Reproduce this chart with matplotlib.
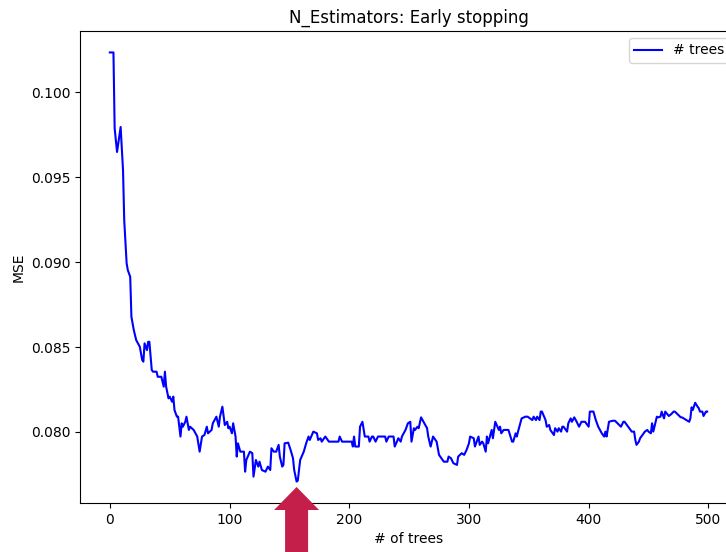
import matplotlib
matplotlib.use('Agg')
import matplotlib.pyplot as plt
from matplotlib.patches import Polygon

# number of trees and validation MSE
n_trees = [0, 3, 4, 6, 9, 11, 12, 14, 15, 17, 18, 20, 22, 25, 27, 28, 29, 31, 32,
           33, 35, 36, 39, 40, 43, 45, 46, 47, 49, 50, 52, 53, 54, 56, 57, 59,
           60, 61, 63, 64, 66, 67, 70, 73, 75, 77, 79, 81, 82, 85, 86, 89, 91,
           92, 94, 96, 98, 99, 100, 102, 103, 105, 106, 107, 109, 112, 113, 114,
           117, 119, 120, 122, 124, 125, 127, 130, 132, 134, 135, 137, 139, 141,
           142, 144, 145, 146, 149, 151, 153, 154, 156, 157, 159, 162, 164, 166,
           167, 170, 173, 174, 176, 177, 180, 183, 191, 192, 194, 202, 203, 204,
           205, 208, 209, 211, 213, 216, 217, 219, 220, 222, 224, 230, 231, 233,
           237, 238, 241, 243, 244, 247, 249, 251, 252, 254, 255, 257, 258, 260,
           262, 265, 266, 268, 270, 273, 275, 277, 279, 282, 283, 285, 287, 290,
           291, 294, 296, 298, 300, 301, 304, 305, 308, 309, 311, 312, 314, 315,
           316, 319, 320, 322, 325, 326, 327, 329, 333, 336, 337, 339, 340, 341,
           344, 346, 347, 349, 353, 354, 356, 357, 359, 360, 361, 364, 365, 367,
           368, 371, 372, 374, 375, 377, 378, 379, 382, 383, 385, 386, 388, 390,
           392, 394, 397, 400, 401, 404, 406, 408, 411, 413, 414, 415, 417, 420,
           422, 427, 429, 430, 436, 438, 439, 440, 442, 443, 444, 447, 449, 450,
           452, 453, 454, 456, 457, 458, 460, 461, 463, 464, 467, 469, 471, 472,
           477, 478, 484, 485, 486, 487, 489, 491, 492, 493, 495, 496, 498, 499]
mse = [0.10235, 0.10235, 0.09788, 0.09649, 0.09796, 0.09541, 0.09247, 0.08994,
       0.08953, 0.08914, 0.08678, 0.08600, 0.08541, 0.08502, 0.08424, 0.08414,
       0.08522, 0.08482, 0.08531, 0.08531, 0.08365, 0.08355, 0.08355, 0.08325,
       0.08325, 0.08267, 0.08355, 0.08267, 0.08198, 0.08208, 0.08178, 0.08208,
       0.08129, 0.08090, 0.08090, 0.07973, 0.08051, 0.08031, 0.08060, 0.08090,
       0.08012, 0.08031, 0.08012, 0.07973, 0.07884, 0.07973, 0.07982, 0.08031,
       0.07992, 0.08012, 0.08051, 0.08090, 0.08031, 0.08090, 0.08149, 0.08041,
       0.08060, 0.08022, 0.08031, 0.07992, 0.08051, 0.07973, 0.07855, 0.07933,
       0.07884, 0.07884, 0.07766, 0.07835, 0.07884, 0.07875, 0.07737, 0.07835,
       0.07796, 0.07825, 0.07776, 0.07766, 0.07796, 0.07776, 0.07904, 0.07884,
       0.07884, 0.07924, 0.07855, 0.07796, 0.07806, 0.07933, 0.07937, 0.07894,
       0.07845, 0.07776, 0.07708, 0.07713, 0.07835, 0.07884, 0.07933, 0.07973,
       0.07953, 0.08002, 0.07992, 0.07953, 0.07963, 0.07943, 0.07973, 0.07943,
       0.07943, 0.07973, 0.07943, 0.07943, 0.07914, 0.07973, 0.07914, 0.07914,
       0.08031, 0.08060, 0.07973, 0.07973, 0.07943, 0.07973, 0.07973, 0.07943,
       0.07973, 0.07973, 0.07943, 0.07973, 0.07973, 0.07914, 0.07963, 0.07943,
       0.07973, 0.08012, 0.08051, 0.08060, 0.07943, 0.08022, 0.08012, 0.08031,
       0.08022, 0.08086, 0.08060, 0.08022, 0.07973, 0.07914, 0.07973, 0.07943,
       0.07865, 0.07845, 0.07825, 0.07825, 0.07855, 0.07845, 0.07816, 0.07806,
       0.07855, 0.07875, 0.07865, 0.07894, 0.07933, 0.07973, 0.07963, 0.07914,
       0.07973, 0.07924, 0.07943, 0.07933, 0.07884, 0.07973, 0.07933, 0.08012,
       0.07963, 0.08060, 0.08012, 0.08031, 0.07992, 0.08012, 0.08012, 0.07943,
       0.07943, 0.07992, 0.07973, 0.08002, 0.08080, 0.08086, 0.08090, 0.08090,
       0.08070, 0.08090, 0.08070, 0.08090, 0.08070, 0.08120, 0.08120, 0.08070,
       0.08031, 0.08041, 0.08012, 0.07982, 0.08022, 0.08002, 0.08022, 0.08002,
       0.08031, 0.08031, 0.08002, 0.08051, 0.08080, 0.08060, 0.08086, 0.08060,
       0.08031, 0.08060, 0.08060, 0.08031, 0.08120, 0.08120, 0.08070, 0.08031,
       0.07992, 0.07973, 0.08002, 0.07973, 0.08060, 0.08066, 0.08066, 0.08031,
       0.08060, 0.08060, 0.08002, 0.08002, 0.07953, 0.07924, 0.07943, 0.07963,
       0.07973, 0.08002, 0.08012, 0.08002, 0.07992, 0.08051, 0.08002, 0.08060,
       0.08090, 0.08086, 0.08090, 0.08120, 0.08080, 0.08120, 0.08094, 0.08105,
       0.08120, 0.08120, 0.08086, 0.08086, 0.08060, 0.08080, 0.08145, 0.08129,
       0.08172, 0.08149, 0.08140, 0.08120, 0.08120, 0.08094, 0.08120, 0.08120]

best_tree = 156
arrow_color = '#C41F4A'

W, H = 726, 552
fig = plt.figure(figsize=(W / 100, H / 100), dpi=100)
ax = fig.add_axes([80 / W, 49 / H, 657 / W, 472 / H])

ax.plot(n_trees, mse, color='blue', label='# trees')
ax.set_title('N_Estimators: Early stopping')
ax.set_xlabel('# of trees')
ax.set_ylabel('MSE')
ax.set_xticks([0, 100, 200, 300, 400, 500])
ax.set_yticks([0.080, 0.085, 0.090, 0.095, 0.100])
ax.legend(loc='upper right')

# fat arrow pointing up at the best number of trees
fig.canvas.draw()
tip_x = ax.transData.transform((best_tree, 0))[0]
pts = [(tip_x, 65), (tip_x + 22.5, 42), (tip_x + 11.5, 42), (tip_x + 11.5, -5),
       (tip_x - 11.5, -5), (tip_x - 11.5, 42), (tip_x - 22.5, 42)]
pts = [(px / W, py / H) for px, py in pts]
fig.add_artist(Polygon(pts, closed=True, transform=fig.transFigure,
                       facecolor=arrow_color, edgecolor='none', zorder=10,
                       clip_on=False))

fig.savefig('out.png', dpi=100)
